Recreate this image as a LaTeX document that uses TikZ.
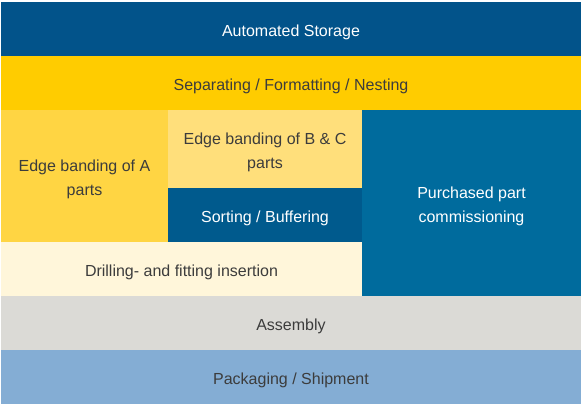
\documentclass[tikz,border=0pt]{standalone}
\usepackage{fontspec}
\setmainfont{Liberation Sans}

\definecolor{storageblue}{RGB}{2,83,138}
\definecolor{sortblue}{RGB}{0,90,141}
\definecolor{purchaseblue}{RGB}{0,107,157}
\definecolor{sepyellow}{RGB}{255,204,0}
\definecolor{ayellow}{RGB}{255,213,67}
\definecolor{bcyellow}{RGB}{255,223,123}
\definecolor{drillcream}{RGB}{255,246,218}
\definecolor{assemblygray}{RGB}{219,218,214}
\definecolor{packblue}{RGB}{132,173,212}
\definecolor{textgray}{RGB}{60,60,60}

\newcommand{\lineup}{\rule{0pt}{13pt}}

\begin{document}
\begin{tikzpicture}[x=0.75pt,y=0.75pt,yscale=-1,xscale=1,
  block/.style={anchor=north west, inner sep=0pt, outer sep=0pt, align=center,
    font=\fontsize{12}{18}\selectfont, execute at begin node={\lineup}},
  light/.style={block, text=textgray},
  dark/.style={block, text=white}]
\useasboundingbox (0,0) rectangle (582,404);

% Top rows
\node (storage) [dark, fill=storageblue, minimum width=435pt, minimum height=40.5pt] at (1,2) {Automated Storage};
\node (separating) [light, fill=sepyellow, minimum width=435pt, minimum height=40.5pt] at (1,56) {Separating / Formatting / Nesting};

% Middle part
\node (edgeA) [light, fill=ayellow, minimum width=125.25pt, minimum height=99pt] at (1,110) {\lineup Edge banding of A\\parts};
\node (edgeBC) [light, fill=bcyellow, minimum width=145.5pt, minimum height=58.5pt] at (168,110) {\lineup Edge banding of B \& C\\parts};
\node (sorting) [dark, fill=sortblue, minimum width=145.5pt, minimum height=40.5pt] at (168,188) {Sorting / Buffering};
\node (drilling) [light, fill=drillcream, minimum width=270.75pt, minimum height=40.5pt] at (1,242) {Drilling- and fitting insertion};
\node (purchased) [dark, fill=purchaseblue, minimum width=164.25pt, minimum height=139.5pt] at (362,110) {\lineup Purchased part\\commissioning};

% Bottom rows
\node (assembly) [light, fill=assemblygray, minimum width=435pt, minimum height=40.5pt] at (1,296) {Assembly};
\node (packaging) [light, fill=packblue, minimum width=435pt, minimum height=40.5pt] at (1,350) {Packaging / Shipment};

\end{tikzpicture}
\end{document}
